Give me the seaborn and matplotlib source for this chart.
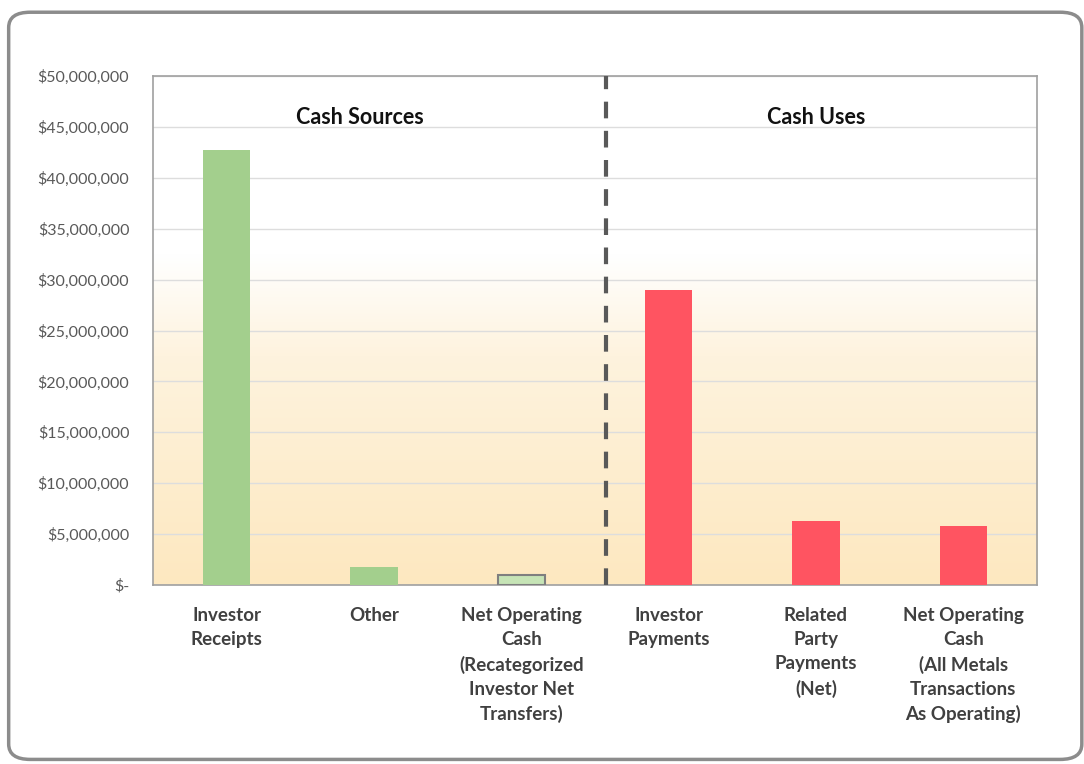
import matplotlib
matplotlib.use("Agg")
import matplotlib.pyplot as plt
import seaborn as sns
import numpy as np
from matplotlib.patches import FancyBboxPatch
from matplotlib.colors import LinearSegmentedColormap
from matplotlib.ticker import FuncFormatter

categories = ["Investor\nReceipts", "Other", "Net Operating\nCash\n(Recategorized\nInvestor Net\nTransfers)",
              "Investor\nPayments", "Related\nParty\nPayments\n(Net)",
              "Net Operating\nCash\n(All Metals\nTransactions\nAs Operating)"]
values = [42.7e6, 1.8e6, 1.0e6, 29.0e6, 6.3e6, 5.8e6]
bar_colors = ["#A3CF8D", "#A3CF8D", "#C6E4B6", "#FF5461", "#FF5461", "#FF5461"]
section_titles = ["Cash Sources", "Cash Uses"]
yticks = [0, 5e6, 10e6, 15e6, 20e6, 25e6, 30e6, 35e6, 40e6, 45e6, 50e6]

sns.set_theme(style="white")
plt.rcParams['font.family'] = ['Lato', 'DejaVu Sans']

fig = plt.figure(figsize=(10.84, 7.64), dpi=100)
ax = fig.add_axes([0.1411, 0.2343, 0.8155, 0.6662])

# gradient background
n = 256
yy = np.linspace(0, 1, n)
cmap = LinearSegmentedColormap.from_list("bg", [(0, "#FDE8C0"), (0.45, "#FEF3DE"), (0.65, "#FFFFFF"), (1, "#FFFFFF")])
grad = cmap(yy)[::-1].reshape(n, 1, 4)
ax.imshow(grad, extent=[-0.5, 5.5, 0, 50e6], aspect='auto', zorder=0, interpolation='bilinear')

sns.barplot(x=list(range(6)), y=values, hue=list(range(6)), palette=bar_colors,
            legend=False, width=0.32, saturation=1, ax=ax, zorder=3)
for i, p in enumerate(ax.patches):
    if i == 2:
        p.set_edgecolor("#7F7F7F")
        p.set_linewidth(1.5)
    else:
        p.set_edgecolor("none")

ax.set_xlim(-0.5, 5.5)
ax.set_ylim(0, 50e6)
ax.set_yticks(yticks)
ax.yaxis.set_major_formatter(FuncFormatter(lambda v, pos: "$-" if v == 0 else f"${v:,.0f}"))
ax.set_xticks(range(6))
ax.set_xticklabels(categories, fontsize=13.5, color="#404040", linespacing=1.5, fontweight='bold')
for lbl in ax.get_xticklabels():
    lbl.set_verticalalignment('top')
ax.tick_params(axis='x', pad=16, length=0)
ax.tick_params(axis='y', labelsize=11.5, labelcolor="#595959", pad=17, length=0)
ax.grid(axis='y', color="#DDDDDD", linewidth=1, zorder=1)
ax.set_axisbelow(True)
for s in ax.spines.values():
    s.set_color("#A0A0A0")
    s.set_linewidth(1.2)

ax.axvline(2.575, color="#595959", linewidth=3, linestyle=(0, (4, 3)), zorder=4)
ax.text(0.905, 45.9e6, section_titles[0], ha='center', va='center', fontsize=15.5, fontweight='bold', color="#111111")
ax.text(4.0, 45.9e6, section_titles[1], ha='center', va='center', fontsize=15.5, fontweight='bold', color="#111111")

border = FancyBboxPatch((0.008, 0.006), 0.99, 0.978, boxstyle="round,pad=0,rounding_size=0.02",
                        transform=fig.transFigure, facecolor='none', edgecolor="#8C8C8C", linewidth=2.5)
fig.patches.append(border)

fig.savefig("out.png", dpi=100)
